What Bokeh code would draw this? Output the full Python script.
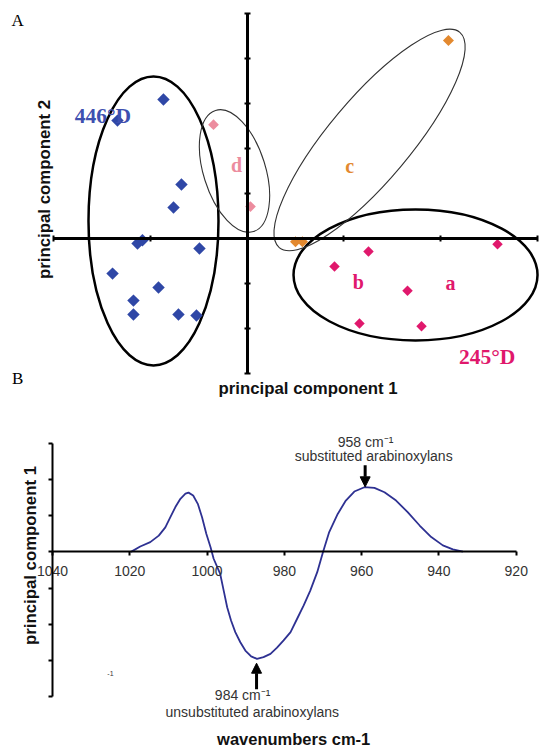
import math
from bokeh.plotting import figure
from bokeh.models import (Range1d, LinearAxis, FixedTicker, Label, Arrow, NormalHead,
                          CustomJSTickFormatter)
from bokeh.embed import file_html
from bokeh.resources import INLINE

# ---------------- Panel A: PCA scores ----------------
blue_x = [-0.864, -1.339, -0.678, -0.760, -1.132, -1.081, -0.492, -1.390, -0.915, -1.174, -1.174, -0.709, -0.523]
blue_y = [3.09, 2.62, 1.20, 0.69, -0.11, -0.04, -0.22, -0.78, -1.09, -1.38, -1.69, -1.69, -1.71]
pink_x = [-0.347, 0.035]
pink_y = [2.53, 0.71]
orange_x = [2.08, 0.50, 0.572]
orange_y = [4.40, -0.07, -0.07]
magenta_x = [2.587, 1.254, 0.903, 1.657, 1.161, 1.802]
magenta_y = [-0.13, -0.29, -0.62, -1.16, -1.89, -1.95]
pc1_ticks = [-2, -1, 0, 1, 2, 3]
pc2_ticks = [-3, -2, -1, 0, 1, 2, 3, 4, 5]

# group ellipse centres (data units)
ell_x = [-0.967, -0.13, 1.265, 1.74]
ell_y = [0.39, 1.50, 2.19, -0.81]

# ---------------- Panel B: loadings ----------------
wavenumber = [1019.7, 1017.3, 1014.7, 1012.5, 1010.8, 1009.5, 1008.2, 1006.9, 1005.6, 1004.8,
              1003.6, 1002.4, 1001.3, 1000.2, 999.1, 998.3, 996.6, 995.7, 994.8, 993.8,
              992.7, 991.4, 990.1, 988.6, 987.1, 985.4, 983.6, 981.9, 980.2, 978.4,
              976.7, 975.0, 973.3, 971.5, 970.0, 968.4, 966.2, 964.1, 961.9, 959.3,
              956.7, 954.1, 951.1, 948.1, 945.0, 942.0, 939.0, 936.4, 933.8]
loading = [0.00, 0.15, 0.27, 0.45, 0.68, 0.96, 1.24, 1.47, 1.61, 1.64,
           1.56, 1.33, 0.96, 0.50, 0.13, -0.19, -0.61, -1.07, -1.53, -1.90,
           -2.22, -2.50, -2.73, -2.89, -2.96, -2.91, -2.82, -2.65, -2.45, -2.22,
           -1.85, -1.48, -1.07, -0.56, 0.00, 0.55, 1.05, 1.42, 1.67, 1.79,
           1.77, 1.65, 1.42, 1.10, 0.73, 0.41, 0.18, 0.07, 0.01]
wn_ticks = [1040, 1020, 1000, 980, 960, 940, 920]
pcb_ticks = [-4, -3, -2, -1, 0, 1, 2, 3]

SANS = "Liberation Sans"
SERIF = "Liberation Serif"
empty_fmt = CustomJSTickFormatter(code="return ''")

# One canvas, frame = whole page; panel A uses the default ranges,
# panel B uses extra ranges placed on the lower part of the canvas.
p = figure(width=539, height=751,
           x_range=Range1d(-2.5475, 3.0207), y_range=Range1d(-11.40, 5.289),
           output_backend="svg", toolbar_location=None,
           x_axis_location=None, y_axis_location=None,
           min_border=0, min_border_left=0, min_border_right=0,
           min_border_top=0, min_border_bottom=0)
p.extra_x_ranges = {"wn": Range1d(1053.45, 913.99)}
p.extra_y_ranges = {"pcb": Range1d(-5.523, 15.257)}
p.outline_line_color = None
p.xgrid.visible = False
p.ygrid.visible = False

# ===== Panel A axes =====
xa = LinearAxis(fixed_location=0, bounds=(-2, 3), ticker=FixedTicker(ticks=pc1_ticks), formatter=empty_fmt,
                axis_line_width=3, axis_line_color="black",
                major_tick_in=3, major_tick_out=3, major_tick_line_width=2,
                minor_tick_line_color=None)
ya = LinearAxis(fixed_location=0, bounds=(-3, 5), ticker=FixedTicker(ticks=pc2_ticks), formatter=empty_fmt,
                axis_line_width=3, axis_line_color="black",
                major_tick_in=3, major_tick_out=3, major_tick_line_width=2,
                minor_tick_line_color=None)
p.add_layout(xa, "below")
p.add_layout(ya, "left")

thick = dict(fill_color=None, line_color="black", line_width=2.5, width_units="screen", height_units="screen")
thin = dict(fill_color=None, line_color="#333333", line_width=1.1, width_units="screen", height_units="screen")
p.ellipse(x=[ell_x[0]], y=[ell_y[0]], width=130, height=289, **thick)
p.ellipse(x=[ell_x[3]], y=[ell_y[3]], width=244, height=131, **thick)
p.ellipse(x=[ell_x[1]], y=[ell_y[1]], width=127, height=62, angle=math.radians(107.4), **thin)
p.ellipse(x=[ell_x[2]], y=[ell_y[2]], width=281, height=82, angle=math.radians(50), **thin)

diamond = dict(marker="square", angle=math.pi / 4, line_color=None)
p.scatter(blue_x, blue_y, size=8.8, fill_color="#2f47a6", **diamond)
p.scatter(pink_x, pink_y, size=7.6, fill_color="#ec8c9e", **diamond)
p.scatter(orange_x, orange_y, size=7.8, fill_color="#e3892f", **diamond)
p.scatter(magenta_x, magenta_y, size=7.4, fill_color="#e0186c", **diamond)


def lab(x, y, text, size, color="black", font=SERIF, style="normal", angle=0.0, panel="A"):
    kw = {}
    if panel == "B":
        kw = dict(x_range_name="wn", y_range_name="pcb")
    p.add_layout(Label(x=x, y=y, text=text, text_font=font, text_font_size=f"{size}px",
                       text_color=color, text_font_style=style, angle=angle,
                       text_align="center", text_baseline="middle", **kw))


lab(-1.49, 2.73, "446°D", 21.5, "#3e50b0", style="bold")
lab(2.48, -2.64, "245°D", 21.5, "#e0186c", style="bold")
lab(-0.11, 1.64, "d", 20, "#ec8c9e", style="bold")
lab(1.06, 1.62, "c", 20, "#e3892f", style="bold")
lab(1.15, -0.97, "b", 20, "#e0186c", style="bold")
lab(2.10, -0.99, "a", 20, "#e0186c", style="bold")
lab(-2.37, 4.84, "A", 17)
lab(-2.37, -3.11, "B", 17)
lab(0.63, -3.33, "principal component 1", 16.8, "#111111", font=SANS, style="bold")
lab(-2.095, 1.09, "principal component 2", 16.8, "#111111", font=SANS, style="bold", angle=math.pi / 2)

# ===== Panel B =====
xb = LinearAxis(x_range_name="wn", y_range_name="pcb", fixed_location=0, bounds=(920, 1040),
                ticker=FixedTicker(ticks=wn_ticks),
                axis_line_width=2, axis_line_color="black",
                major_tick_in=0, major_tick_out=4, major_tick_line_width=2,
                minor_tick_line_color=None, major_label_standoff=10,
                major_label_text_font=SANS, major_label_text_font_size="14px",
                major_label_text_color="#333333")
yb = LinearAxis(x_range_name="wn", y_range_name="pcb", fixed_location=1040, bounds=(-4, 3),
                ticker=FixedTicker(ticks=pcb_ticks), formatter=empty_fmt,
                axis_line_width=2, axis_line_color="black",
                major_tick_in=0, major_tick_out=4, major_tick_line_width=2,
                minor_tick_line_color=None)
p.add_layout(xb, "below")
p.add_layout(yb, "left")

p.line(wavenumber, loading, line_color="#2e3192", line_width=1.8, line_join="round",
       x_range_name="wn", y_range_name="pcb")

for xs, ys, xe, ye in [(959.1, 2.40, 959.1, 1.80), (987.2, -3.80, 987.2, -3.08)]:
    p.add_layout(Arrow(end=NormalHead(size=10, fill_color="black", line_color="black"),
                       x_start=xs, y_start=ys, x_end=xe, y_end=ye,
                       line_width=3, line_color="black",
                       x_range_name="wn", y_range_name="pcb"))

lab(959.0, 3.03, "958 cm⁻¹", 14, "#333333", font=SANS, panel="B")
lab(956.9, 2.64, "substituted arabinoxylans", 14, "#333333", font=SANS, panel="B")
lab(990.8, -3.97, "984 cm⁻¹", 14, "#333333", font=SANS, panel="B")
lab(988.3, -4.42, "unsubstituted arabinoxylans", 14, "#333333", font=SANS, panel="B")
lab(1025.0, -3.36, "-1", 7, "#333333", font=SANS, panel="B")
lab(1045.7, -0.10, "principal component 1", 16.8, "#111111", font=SANS, style="bold",
    angle=math.pi / 2, panel="B")
lab(977.6, -5.17, "wavenumbers cm-1", 16.5, "#111111", font=SANS, style="bold", panel="B")

open("out.html", "w").write(file_html(p, INLINE))
